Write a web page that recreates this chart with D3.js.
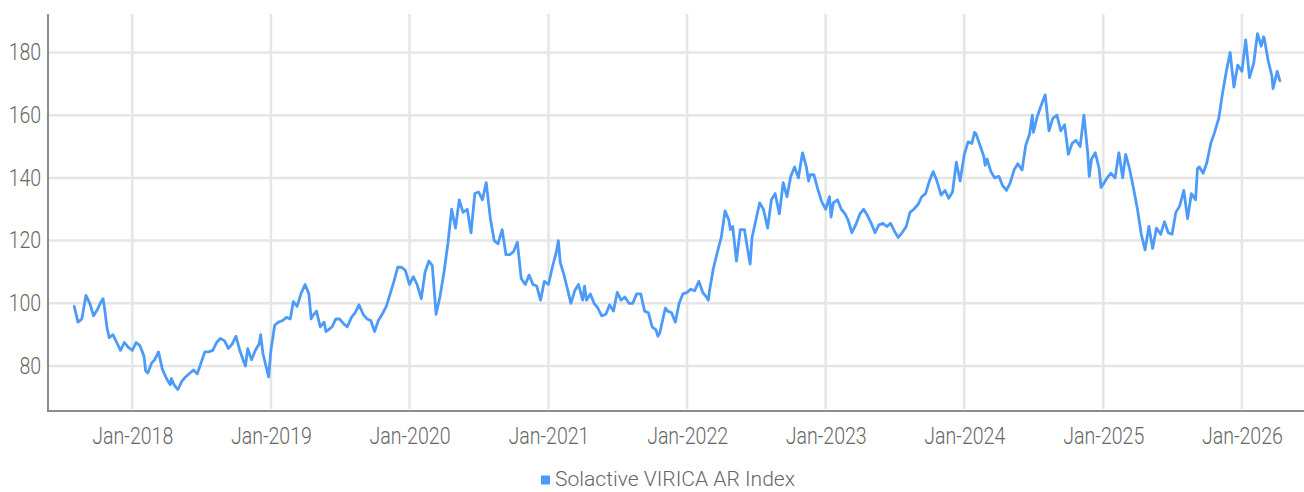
<!DOCTYPE html>
<html><head><meta charset="utf-8">
<script src="https://cdn.jsdelivr.net/npm/d3@7"></script>
<style>
html,body{margin:0;padding:0;background:#fff;}
svg{display:block;font-family:Roboto,"Noto Sans",sans-serif;}
</style></head><body>
<svg id="chart" width="1304" height="492"></svg>
<script>
// ---- data ----
const seriesName = "Solactive VIRICA AR Index";
const dates = [
"2017-08-01","2017-08-11","2017-08-21",
"2017-09-01","2017-09-11","2017-09-21",
"2017-10-01","2017-10-11","2017-10-16","2017-10-21","2017-10-26",
"2017-11-01","2017-11-11","2017-11-21",
"2017-12-01","2017-12-11","2017-12-21",
"2018-01-01","2018-01-11","2018-01-21",
"2018-02-01","2018-02-05","2018-02-11","2018-02-21",
"2018-03-01","2018-03-11","2018-03-21",
"2018-04-01","2018-04-11","2018-04-14","2018-04-21",
"2018-05-01","2018-05-11","2018-05-21",
"2018-06-01","2018-06-11","2018-06-21",
"2018-07-01","2018-07-11","2018-07-21",
"2018-08-01","2018-08-11","2018-08-21",
"2018-09-01","2018-09-11","2018-09-21",
"2018-10-01","2018-10-11","2018-10-21","2018-10-26",
"2018-11-01","2018-11-11","2018-11-21",
"2018-12-01","2018-12-05","2018-12-11","2018-12-21","2018-12-26",
"2019-01-01","2019-01-11","2019-01-21",
"2019-02-01","2019-02-11","2019-02-21",
"2019-03-01","2019-03-11","2019-03-21",
"2019-04-01","2019-04-11","2019-04-17","2019-04-21",
"2019-05-01","2019-05-11","2019-05-21","2019-05-26",
"2019-06-01","2019-06-11","2019-06-21",
"2019-07-01","2019-07-11","2019-07-21",
"2019-08-01","2019-08-11","2019-08-21",
"2019-09-01","2019-09-11","2019-09-21",
"2019-10-01","2019-10-11","2019-10-21",
"2019-11-01","2019-11-11","2019-11-21",
"2019-12-01","2019-12-11","2019-12-21",
"2020-01-01","2020-01-11","2020-01-21",
"2020-02-01","2020-02-11","2020-02-21",
"2020-03-01","2020-03-11","2020-03-21",
"2020-04-01","2020-04-11","2020-04-21",
"2020-05-01","2020-05-11","2020-05-21",
"2020-06-01","2020-06-11","2020-06-21",
"2020-07-01","2020-07-11","2020-07-21",
"2020-08-01","2020-08-11","2020-08-21",
"2020-09-01","2020-09-11","2020-09-21",
"2020-10-01","2020-10-11","2020-10-21","2020-10-26",
"2020-11-01","2020-11-11","2020-11-21",
"2020-12-01","2020-12-11","2020-12-21",
"2021-01-01","2021-01-11","2021-01-21","2021-01-27",
"2021-02-01","2021-02-11","2021-02-21",
"2021-03-01","2021-03-11","2021-03-21",
"2021-04-01","2021-04-06","2021-04-11","2021-04-21",
"2021-05-01","2021-05-11","2021-05-21",
"2021-06-01","2021-06-11","2021-06-21",
"2021-07-01","2021-07-11","2021-07-21",
"2021-08-01","2021-08-11","2021-08-21",
"2021-09-01","2021-09-11","2021-09-21",
"2021-10-01","2021-10-11","2021-10-16","2021-10-21",
"2021-11-01","2021-11-05","2021-11-11","2021-11-21",
"2021-12-01","2021-12-11","2021-12-21",
"2022-01-01","2022-01-11","2022-01-21",
"2022-02-01","2022-02-11","2022-02-21","2022-02-26",
"2022-03-01","2022-03-11","2022-03-21",
"2022-04-01","2022-04-11","2022-04-21","2022-04-25",
"2022-05-01","2022-05-11","2022-05-21",
"2022-06-01","2022-06-11","2022-06-16","2022-06-21",
"2022-07-01","2022-07-11","2022-07-21",
"2022-08-01","2022-08-11","2022-08-21",
"2022-09-01","2022-09-11","2022-09-21",
"2022-10-01","2022-10-11","2022-10-21",
"2022-11-01","2022-11-11","2022-11-17","2022-11-21",
"2022-12-01","2022-12-11","2022-12-21",
"2023-01-01","2023-01-11","2023-01-15","2023-01-21",
"2023-02-01","2023-02-11","2023-02-21",
"2023-03-01","2023-03-11","2023-03-21",
"2023-04-01","2023-04-11","2023-04-21",
"2023-05-01","2023-05-11","2023-05-21",
"2023-06-01","2023-06-11","2023-06-21",
"2023-07-01","2023-07-11","2023-07-21",
"2023-08-01","2023-08-11","2023-08-21",
"2023-09-01","2023-09-11","2023-09-21",
"2023-10-01","2023-10-11","2023-10-21",
"2023-11-01","2023-11-11","2023-11-21",
"2023-12-01","2023-12-11","2023-12-21",
"2024-01-01","2024-01-11","2024-01-21","2024-01-28",
"2024-02-01","2024-02-11","2024-02-21","2024-02-25",
"2024-03-01","2024-03-11","2024-03-21",
"2024-04-01","2024-04-11","2024-04-21",
"2024-05-01","2024-05-11","2024-05-21",
"2024-06-01","2024-06-11","2024-06-21","2024-06-28",
"2024-07-01","2024-07-11","2024-07-21",
"2024-08-01","2024-08-11","2024-08-21",
"2024-09-01","2024-09-11","2024-09-21",
"2024-10-01","2024-10-11","2024-10-21",
"2024-11-01","2024-11-11","2024-11-21","2024-11-25",
"2024-12-01","2024-12-11","2024-12-21","2024-12-26",
"2025-01-01","2025-01-11","2025-01-21",
"2025-02-01","2025-02-11","2025-02-21",
"2025-03-01","2025-03-11","2025-03-21",
"2025-04-01","2025-04-11","2025-04-21",
"2025-05-01","2025-05-11","2025-05-21",
"2025-06-01","2025-06-11","2025-06-21",
"2025-07-01","2025-07-11","2025-07-21",
"2025-08-01","2025-08-11","2025-08-21",
"2025-09-01","2025-09-06","2025-09-11","2025-09-21",
"2025-10-01","2025-10-11","2025-10-21",
"2025-11-01","2025-11-11","2025-11-21",
"2025-12-01","2025-12-11","2025-12-21",
"2026-01-01","2026-01-11","2026-01-21",
"2026-02-01","2026-02-11","2026-02-21","2026-02-27",
"2026-03-01","2026-03-11","2026-03-21","2026-03-24",
"2026-04-04","2026-04-11"
];
const values = [
99,94,95,
102.5,100,96,
98,100.5,101.5,97.5,92.5,
89,90,87.5,
85,87.5,86,
85,87.5,86.5,
83,78.5,77.8,81,
82,84.5,79,
76,74,76,74,
72.5,75,76.5,
77.7,78.7,77.5,
81,84.5,84.5,
85,87.5,88.8,
88,85.6,87,
89.5,85,81.5,80,
85.5,82,85,
87,90,84,79,76.5,
85,93,94,
94.5,95.5,95,
100.5,99,103,
106,103,95,96,
97.5,92.5,94,91,
91.5,92.5,95,
95,93.5,92.5,
95.5,97,99.5,
96.5,95,94.5,
91,94.5,96.5,
99,103,107,
111.5,111.5,110.5,
106,108.5,106,
101.5,110,113.5,
112,96.5,102,
110,119,130,
124,133,129,
130,122.5,135,
135.5,133,138.5,
127,120,119,
123.5,115.5,115.5,
116.5,119.5,108,107,
106,109,106,
105.5,101,107,
106,111.5,116,120,
113,109,104,
100,104,106,
101,105.5,101,103,
100,98.5,96,
96.5,99.5,97.5,
103.5,101,102,
100,100,103,
103,97.5,97,
92.5,91.5,89.5,90.5,
96.5,98.5,97.5,97,
94,100,103,
103.5,104.5,104,
107,103.5,102,101,
104,111,116,
121,129.5,126.5,123.5,
124.5,113.5,123.5,
123.5,116,112.5,121,
126.5,132,130,
124,133,135,
128.5,138.5,134,
140.5,143.5,140,
148,143.5,139,141,
141,136.5,132.5,
130,134,127.5,132,
133,130,128.5,
126.5,122.5,125,
128.5,130,128,
125.5,122.5,125,
125.5,124.5,125.5,
123,121,122.5,
124.5,129,130,
131.5,134,135,
139,142,139,
134.5,136,133.5,
135.5,145,139,
147.5,151.5,151,154.5,
154,150.5,147,144,
146,142,140,
140.5,137.5,136,
138.5,142.5,144.5,
142.5,150.5,154,160,
154.5,159.5,163,
166.5,155,159,
160,155,157,
147.5,151,152,
150,160,148,140.5,
146,148,143,137,
138,140,141.5,
140,148,140,
147.5,143,137,
130,122,117,
124.5,117.5,124,
122,126,122.5,
122,129,131,
136,127,135,
133,143,143.5,141.5,
145,151,154.5,
159,167,174,
180,169,176,
174,184,172,
176.5,186,182,185,
184.5,177.5,172.5,168.5,
174,171
];
const yTickValues = [80, 100, 120, 140, 160, 180];
const xTickDates = ["2018-01-01","2019-01-01","2020-01-01","2021-01-01","2022-01-01","2023-01-01","2024-01-01","2025-01-01","2026-01-01"];
const xTickFormat = "%b-%Y";

// ---- layout ----
const plotLeft = 48, plotTop = 14, plotBottom = 411, plotRight = 1304;
const parse = d3.timeParse("%Y-%m-%d");
const data = dates.map((d, i) => ({ date: parse(d), value: values[i] }));
const xTicks = xTickDates.map(parse);

const x = d3.scaleTime()
  .domain([parse("2018-01-01"), parse("2026-01-01")])
  .range([132.3, 1241.9]);
const y = d3.scaleLinear().domain([80, 180]).range([366, 52.5]);

const svg = d3.select("#chart");
const textColor = "#666";
const gridColor = "#e6e6e6";
const axisColor = "#8c8c8c";
const lineColor = "#4d9bf8";
const fontFamily = "Roboto, 'Noto Sans', sans-serif";

// gridlines
svg.append("g").selectAll("line").data(yTickValues).join("line")
  .attr("x1", plotLeft).attr("x2", plotRight)
  .attr("y1", d => y(d)).attr("y2", d => y(d))
  .attr("stroke", gridColor).attr("stroke-width", 2.5);
svg.append("g").selectAll("line").data(xTicks).join("line")
  .attr("x1", d => x(d)).attr("x2", d => x(d))
  .attr("y1", plotTop).attr("y2", plotBottom - 2)
  .attr("stroke", gridColor).attr("stroke-width", 2.5);

// line
const line = d3.line().x(d => x(d.date)).y(d => y(d.value));
svg.append("path").datum(data)
  .attr("fill", "none").attr("stroke", lineColor)
  .attr("stroke-width", 2.8).attr("stroke-linejoin", "round").attr("stroke-linecap", "round")
  .attr("d", line);

// axis lines
svg.append("line").attr("x1", plotLeft).attr("x2", plotLeft)
  .attr("y1", plotTop).attr("y2", plotBottom)
  .attr("stroke", axisColor).attr("stroke-width", 2);
svg.append("line").attr("x1", plotLeft - 1).attr("x2", plotRight)
  .attr("y1", plotBottom).attr("y2", plotBottom)
  .attr("stroke", axisColor).attr("stroke-width", 2);

// y axis labels
const yAxis = svg.append("g").attr("transform", `translate(${plotLeft},0)`)
  .call(d3.axisLeft(y).tickValues(yTickValues).tickSize(0).tickPadding(8));
yAxis.select(".domain").remove();
yAxis.selectAll("text")
  .attr("fill", textColor).attr("font-size", 23).attr("font-weight", 300)
  .attr("font-family", fontFamily)
  .attr("transform", "scale(0.85,1)");

// x axis labels
const xAxis = svg.append("g").attr("transform", `translate(0,${plotBottom})`)
  .call(d3.axisBottom(x).tickValues(xTicks).tickFormat(d3.timeFormat(xTickFormat)).tickSize(0).tickPadding(17));
xAxis.select(".domain").remove();
xAxis.selectAll("text")
  .attr("fill", textColor).attr("font-size", 23).attr("font-weight", 300)
  .attr("font-family", fontFamily)
  .attr("transform", "scale(0.85,1)");

// legend
const lg = svg.append("g").attr("transform", "translate(541,480)");
lg.append("rect").attr("x", 0).attr("y", -4.5).attr("width", 9).attr("height", 9).attr("fill", lineColor);
lg.append("text").attr("x", 14).attr("y", 6)
  .attr("fill", textColor).attr("font-size", 21).attr("font-weight", 300)
  .attr("font-family", fontFamily)
  .attr("textLength", 240).attr("lengthAdjust", "spacingAndGlyphs")
  .text(seriesName);
</script>
</body></html>
